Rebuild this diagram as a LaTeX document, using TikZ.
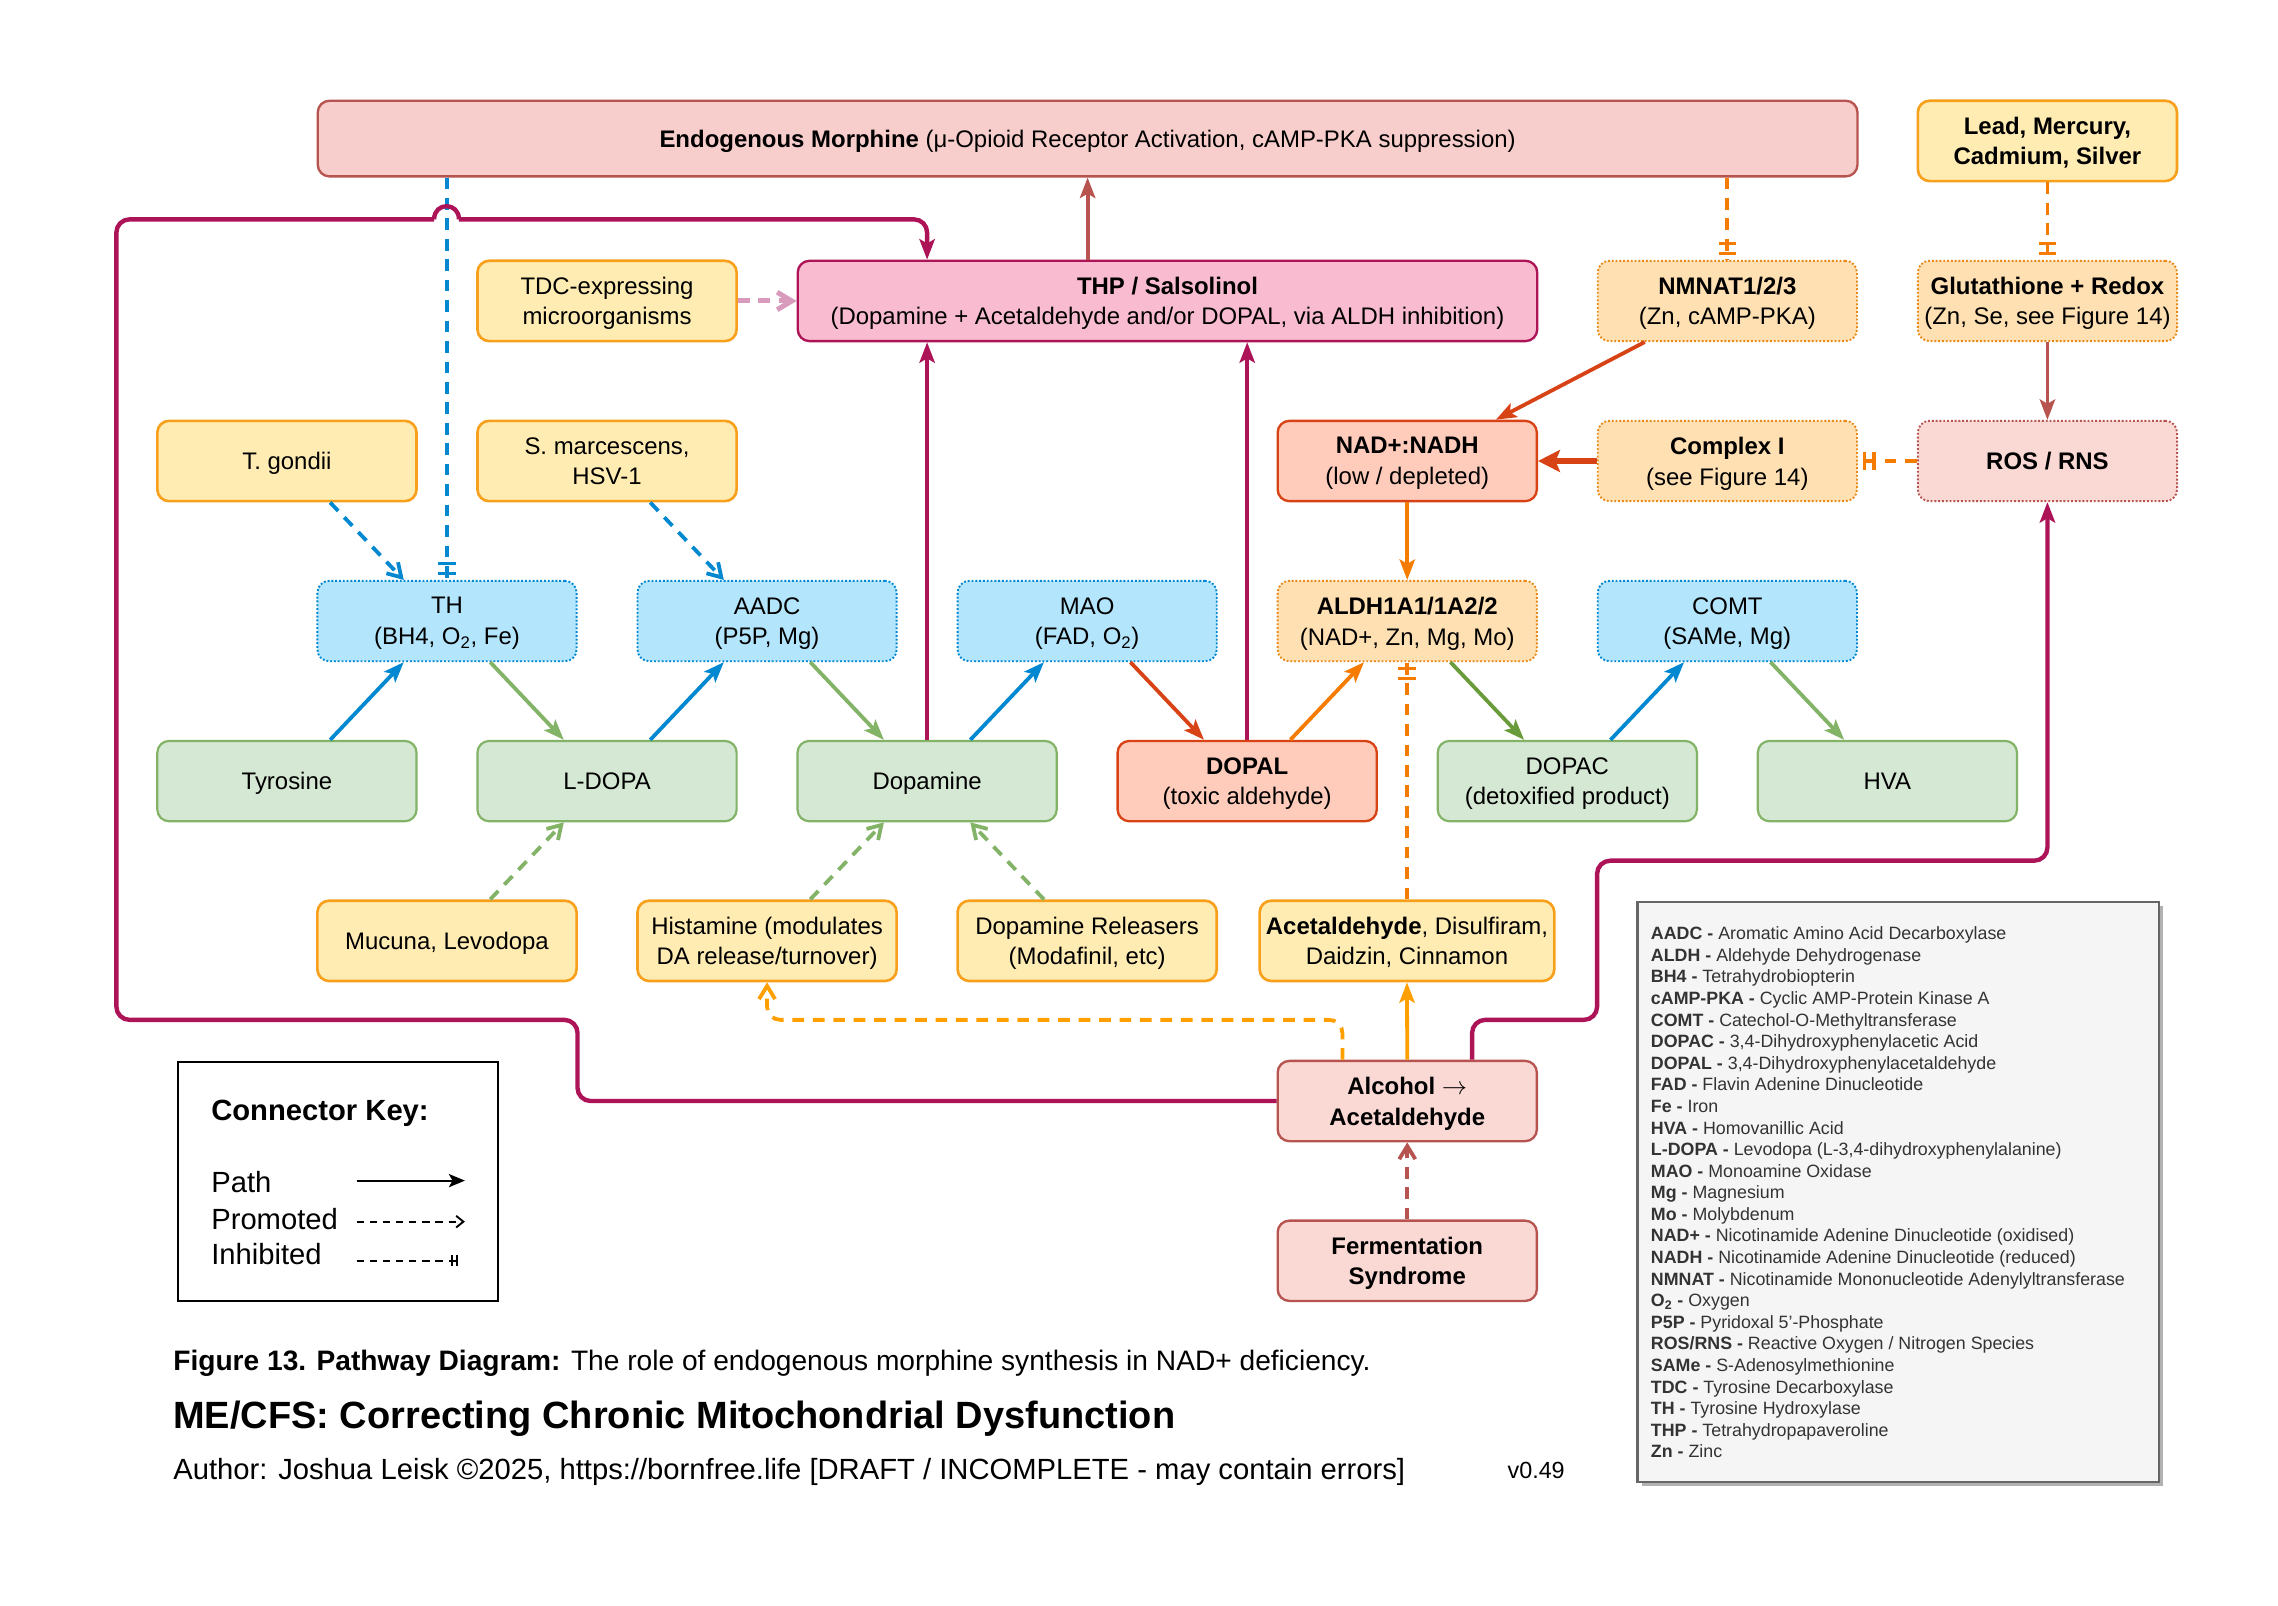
\documentclass[tikz,border=0pt]{standalone}
\usepackage{fontspec}
\setmainfont{Liberation Sans}
\usetikzlibrary{arrows.meta,decorations.markings,shadows}
\definecolor{cBlueF}{HTML}{B3E5FC}
\definecolor{cBlue}{HTML}{0288D1}
\definecolor{cGreenF}{HTML}{D5E8D4}
\definecolor{cGreen}{HTML}{82B366}
\definecolor{cGreenDk}{HTML}{6A9B3A}
\definecolor{cYelF}{HTML}{FFECB3}
\definecolor{cYel}{HTML}{F8A01C}
\definecolor{cAmber}{HTML}{FFA000}
\definecolor{cOrF}{HTML}{FFE0B2}
\definecolor{cOr}{HTML}{F57C00}
\definecolor{cOrD}{HTML}{E88A1A}
\definecolor{cDOrF}{HTML}{FFCCBC}
\definecolor{cDOr}{HTML}{D84315}
\definecolor{cRedF}{HTML}{F8CECC}
\definecolor{cRedF2}{HTML}{FAD9D5}
\definecolor{cRed}{HTML}{B85450}
\definecolor{cPinkF}{HTML}{F8BBD0}
\definecolor{cMag}{HTML}{AD1457}
\definecolor{cPinkL}{HTML}{D99BBB}
\definecolor{cLegF}{HTML}{F5F5F5}
\definecolor{cLegD}{HTML}{666666}
\definecolor{cTxt}{HTML}{333333}
\newcommand\bxfont{\fontsize{16.4}{21}\selectfont}
\newcommand\abfont{\fontsize{12.2}{14.78}\selectfont}
\newcommand\keyfont{\fontsize{20}{24}\selectfont}
\newcommand\capfont{\fontsize{19.27}{23}\selectfont}
\newcommand\ttlfont{\fontsize{26}{30}\selectfont}
\newcommand\authfont{\fontsize{20}{24}\selectfont}
\newcommand\verfont{\fontsize{16}{19}\selectfont}
\begin{document}
\begin{tikzpicture}[x=1pt,y=-1pt,
  box/.style={rectangle, rounded corners=8pt, minimum width=177.5pt, minimum height=55pt,
    inner sep=0pt, align=center, font=\bxfont, text=black, text depth=0pt},
  bfbox/.style={font=\bxfont\bfseries},
  bxGreen/.style={box, fill=cGreenF, draw=cGreen, line width=1.5pt},
  bxBlue/.style={box, fill=cBlueF, draw=cBlue, line width=1.3pt, dash pattern=on 1.3pt off 1.3pt},
  bxYel/.style={box, fill=cYelF, draw=cYel, line width=1.8pt},
  bxOr/.style={box, fill=cOrF, draw=cOrD, line width=1.3pt, dash pattern=on 1.3pt off 1.3pt},
  bxDOr/.style={box, fill=cDOrF, draw=cDOr, line width=1.6pt},
  bxRed/.style={box, fill=cRedF2, draw=cRed, line width=1.6pt},
  bxRos/.style={box, fill=cRedF2, draw=cRed, line width=1.3pt, dash pattern=on 1.3pt off 1.3pt},
  bxPink/.style={box, fill=cPinkF, draw=cMag, line width=1.6pt},
  ln/.style={line width=2.6pt},
  mline/.style={line width=3pt, cMag},
  tipF/.style={-{Stealth[length=14pt,width=10.5pt,inset=3pt]}},
  tipO/.style={-{Straight Barb[length=9pt,width=11pt]}},
  dsh/.style={dash pattern=on 8pt off 6pt},
  inh/.style={postaction={decorate,decoration={markings,
      mark=at position -4.5pt with {\draw[solid,line width=2.2pt,#1] (0,-6pt) -- (0,6pt);},
      mark=at position -11pt with {\draw[solid,line width=2.2pt,#1] (0,-6pt) -- (0,6pt);}}}},
  inhS/.style={postaction={decorate,decoration={markings,
      mark=at position -1pt with {\draw[solid,line width=1.2pt,black] (0,-4pt) -- (0,4pt);},
      mark=at position -4.5pt with {\draw[solid,line width=1.2pt,black] (0,-4pt) -- (0,4pt);}}}},
  txt/.style={inner sep=0pt, text=black}
]
\useasboundingbox (0,0) rectangle (1560,1099.8);
\fill[white] (0,0) rectangle (1560,1099.8);

% ---------- boxes ----------
\node[box, fill=cRedF, draw=cRed, line width=1.6pt, minimum width=1054.4pt, minimum height=51.8pt] (endo) at (744.8,94.9)
  {\textbf{Endogenous Morphine} (μ-Opioid Receptor Activation, cAMP-PKA suppression)};
\node[bxYel,bfbox] (lead) at (1402.1,96.5) {Lead, Mercury,\\Cadmium, Silver};

\node[bxYel] (tdc) at (415.7,206.1) {TDC-expressing\\microorganisms};
\node[bxPink, minimum width=506.4pt] (thp) at (799.5,206.1)
  {\textbf{THP / Salsolinol}\\(Dopamine + Acetaldehyde and/or DOPAL, via ALDH inhibition)};
\node[bxOr] (nmnat) at (1182.9,206.1) {\textbf{NMNAT1/2/3}\\(Zn, cAMP-PKA)};
\node[bxOr] (glut) at (1402.1,206.1) {\textbf{Glutathione + Redox}\\(Zn, Se, see Figure 14)};

\node[bxYel] (tg) at (196.5,315.7) {T. gondii};
\node[bxYel] (sm) at (415.7,315.7) {S. marcescens,\\HSV-1};
\node[bxDOr] (nad) at (963.7,315.7) {\textbf{NAD+:NADH}\\(low / depleted)};
\node[bxOr] (c1) at (1182.9,315.7) {\textbf{Complex I}\\(see Figure 14)};
\node[bxRos,bfbox] (ros) at (1402.1,315.7) {ROS / RNS};

\node[bxBlue] (th) at (306.1,425.3) {TH\\(BH4, O\textsubscript{2}, Fe)};
\node[bxBlue] (aadc) at (525.3,425.3) {AADC\\(P5P, Mg)};
\node[bxBlue] (mao) at (744.5,425.3) {MAO\\(FAD, O\textsubscript{2})};
\node[bxOr] (aldh) at (963.7,425.3) {\textbf{ALDH1A1/1A2/2}\\(NAD+, Zn, Mg, Mo)};
\node[bxBlue] (comt) at (1182.9,425.3) {COMT\\(SAMe, Mg)};

\node[bxGreen] (tyr) at (196.5,534.9) {Tyrosine};
\node[bxGreen] (ldopa) at (415.7,534.9) {L-DOPA};
\node[bxGreen] (dopa) at (634.9,534.9) {Dopamine};
\node[bxDOr] (dopal) at (854.1,534.9) {\textbf{DOPAL}\\(toxic aldehyde)};
\node[bxGreen] (dopac) at (1073.3,534.9) {DOPAC\\(detoxified product)};
\node[bxGreen] (hva) at (1292.5,534.9) {HVA};

\node[bxYel] (muc) at (306.1,644.3) {Mucuna, Levodopa};
\node[bxYel] (hist) at (525.3,644.3) {Histamine (modulates\\DA release/turnover)};
\node[bxYel] (rel) at (744.5,644.3) {Dopamine Releasers\\(Modafinil, etc)};
\node[bxYel, minimum width=201.8pt] (acet) at (963.5,644.3) {\textbf{Acetaldehyde}, Disulfiram,\\Daidzin, Cinnamon};

\node[bxRed,bfbox] (alc) at (963.7,754.0) {Alcohol $\rightarrow$\\Acetaldehyde};
\node[bxRed,bfbox] (ferm) at (963.7,863.4) {Fermentation\\Syndrome};

% ---------- main pathway ----------
\draw[cBlue,ln,tipF] ([xshift=29.6pt]tyr.north) -- ([xshift=-29.6pt]th.south);
\draw[cGreen,ln,tipF] ([xshift=29.6pt]th.south) -- ([xshift=-29.6pt]ldopa.north);
\draw[cBlue,ln,tipF] ([xshift=29.6pt]ldopa.north) -- ([xshift=-29.6pt]aadc.south);
\draw[cGreen,ln,tipF] ([xshift=29.6pt]aadc.south) -- ([xshift=-29.6pt]dopa.north);
\draw[cBlue,ln,tipF] ([xshift=29.6pt]dopa.north) -- ([xshift=-29.6pt]mao.south);
\draw[cDOr,ln,tipF] ([xshift=29.6pt]mao.south) -- ([xshift=-29.6pt]dopal.north);
\draw[cOr,ln,tipF] ([xshift=29.6pt]dopal.north) -- ([xshift=-29.6pt]aldh.south);
\draw[cGreenDk,ln,tipF] ([xshift=29.6pt]aldh.south) -- ([xshift=-29.6pt]dopac.north);
\draw[cBlue,ln,tipF] ([xshift=29.6pt]dopac.north) -- ([xshift=-29.6pt]comt.south);
\draw[cGreen,ln,tipF] ([xshift=29.6pt]comt.south) -- ([xshift=-29.6pt]hva.north);

\draw[cMag,ln,tipF] (dopa.north) -- (dopa.north |- thp.south);
\draw[cMag,ln,tipF] (dopal.north) -- (dopal.north |- thp.south);
\draw[cRed,ln,tipF] (endo.south |- thp.north) -- (endo.south);
\draw[cPinkL,line width=3.4pt,dsh,-{Straight Barb[length=10pt,width=12pt]}] (tdc.east) -- (thp.west);

% ---------- modulators ----------
\draw[cBlue,line width=2.4pt,dsh,inh=cBlue] (endo.south -| th.north) -- (th.north);
\draw[cBlue,ln,dsh,tipO] ([xshift=29.6pt]tg.south) -- ([xshift=-29.6pt]th.north);
\draw[cBlue,ln,dsh,tipO] ([xshift=29.6pt]sm.south) -- ([xshift=-29.6pt]aadc.north);
\draw[cGreen,ln,dsh,tipO] ([xshift=29.6pt]muc.north) -- ([xshift=-29.6pt]ldopa.south);
\draw[cGreen,ln,dsh,tipO] ([xshift=29.6pt]hist.north) -- ([xshift=-29.6pt]dopa.south);
\draw[cGreen,ln,dsh,tipO] ([xshift=-29.6pt]rel.north) -- ([xshift=29.6pt]dopa.south);

\draw[cOr,ln,dsh,inh=cOr] (endo.south -| nmnat.north) -- (nmnat.north);
\draw[cOr,ln,dsh,inh=cOr] (lead.south) -- (glut.north);
\draw[cRed,ln,tipF] (glut.south) -- (ros.north);
\draw[cDOr,ln,tipF] ([xshift=-56.6pt]nmnat.south) -- ([xshift=60.7pt]nad.north);
\draw[cDOr,line width=4.6pt,-{Stealth[length=15pt,width=15pt,inset=3pt]}] (c1.west) -- (nad.east);
\draw[cOr,ln,dsh,inh=cOr] (ros.west) -- (c1.east);
\draw[cOr,ln,tipF] (nad.south) -- (aldh.north);
\draw[cOr,ln,dsh,inh=cOr] (acet.north) -- (acet.north |- aldh.south);
\draw[cAmber,ln,tipF] (alc.north) -- (acet.south);
\draw[cRed,ln,dsh,tipO] (ferm.north) -- (alc.south);

\coordinate (hy) at (0,698.4);
\draw[cAmber,ln,dsh,tipO,rounded corners=9pt] ([xshift=-44.4pt]alc.north) |- (hist.south |- hy) -- (hist.south);

% ---------- long magenta routes ----------
\coordinate (mA) at (395.5,698.4);
\coordinate (mB) at (79.7,150.2);
\coordinate (hopL) at (297.3,150.2);
\coordinate (hopR) at (314.3,150.2);
\draw[mline,rounded corners=9pt] (alc.west) -| (mA) -| (mB) -- (hopL);
\draw[mline] (hopL) .. controls (297.3,138.2) and (314.3,138.2) .. (hopR);
\draw[mline,rounded corners=9pt,tipF] (hopR) -| (dopa.north |- thp.north);

\coordinate (mC) at (1093.7,698.4);
\coordinate (mD) at (1093.7,589.4);
\draw[mline,rounded corners=9pt,tipF] ([xshift=44.4pt]alc.north) |- (mC) -- (mD) -| (ros.south);

% ---------- connector key ----------
\node[draw=black, line width=1.5pt, minimum width=218.7pt, minimum height=163.7pt, anchor=north west, inner sep=0pt] (key) at (121.4,726.5) {};
\node[txt, anchor=west, font=\keyfont\bfseries] (keyT) at (144.5,762.4) {Connector Key:};
\node[txt, anchor=west, font=\keyfont] (kPath) at (144.5,809.2) {Path};
\node[txt, anchor=west, font=\keyfont] (kProm) at (144.5,834.6) {Promoted};
\node[txt, anchor=west, font=\keyfont] (kInh) at (144.5,858.6) {Inhibited};
\coordinate (pa1) at (244.2,808.5); \coordinate (pa2) at (318.4,808.5);
\coordinate (pr1) at (244.2,836.6); \coordinate (pr2) at (318.4,836.6);
\coordinate (in1) at (244.2,863.3); \coordinate (in2) at (313.8,863.3);
\draw[black,line width=1.5pt,-{Stealth[length=11pt,width=9pt,inset=2.5pt]}] (pa1) -- (pa2);
\draw[black,line width=1.3pt,dash pattern=on 5pt off 4pt,-{Straight Barb[length=5pt,width=8pt,line width=1.3pt]}] (pr1) -- (pr2);
\draw[black,line width=1.3pt,dash pattern=on 5pt off 4pt,inhS] (in1) -- (in2);

% ---------- abbreviations ----------
\node[draw=cLegD, fill=cLegF, line width=1.5pt, minimum width=356.9pt, minimum height=397.5pt,
  anchor=north west, inner sep=0pt,
  drop shadow={shadow xshift=3pt,shadow yshift=-3pt,opacity=0.3,fill=black}] (abbr) at (1120.6,616.7) {};
\foreach \a/\b [count=\i from 0] in {
  AADC/{Aromatic Amino Acid Decarboxylase},
  ALDH/{Aldehyde Dehydrogenase},
  BH4/{Tetrahydrobiopterin},
  cAMP-PKA/{Cyclic AMP-Protein Kinase A},
  COMT/{Catechol-O-Methyltransferase},
  DOPAC/{3,4-Dihydroxyphenylacetic Acid},
  DOPAL/{3,4-Dihydroxyphenylacetaldehyde},
  FAD/{Flavin Adenine Dinucleotide},
  Fe/{Iron},
  HVA/{Homovanillic Acid},
  L-DOPA/{Levodopa (L-3,4-dihydroxyphenylalanine)},
  MAO/{Monoamine Oxidase},
  Mg/{Magnesium},
  Mo/{Molybdenum},
  NAD+/{Nicotinamide Adenine Dinucleotide (oxidised)},
  NADH/{Nicotinamide Adenine Dinucleotide (reduced)},
  NMNAT/{Nicotinamide Mononucleotide Adenylyltransferase},
  {O\textsubscript{2}}/{Oxygen},
  P5P/{Pyridoxal 5’-Phosphate},
  {ROS\slash RNS}/{Reactive Oxygen \slash\ Nitrogen Species},
  SAMe/{S-Adenosylmethionine},
  TDC/{Tyrosine Decarboxylase},
  TH/{Tyrosine Hydroxylase},
  THP/{Tetrahydropapaveroline},
  Zn/{Zinc}}
  {\node[inner sep=0pt, anchor=base west, font=\abfont, text=cTxt] (ab\i) at (1130.4,{643.6+14.78*\i}) {\textbf{\a\ -} \b};}

% ---------- captions ----------
\node[txt, anchor=base west, font=\capfont] (cap) at (118.5,938.5)
  {\textbf{Figure 13. Pathway Diagram:} The role of endogenous morphine synthesis in NAD+ deficiency.};
\node[txt, anchor=base west, font=\ttlfont\bfseries] (ttl) at (118.5,978)
  {ME/CFS: Correcting Chronic Mitochondrial Dysfunction};
\node[txt, anchor=base west, font=\authfont] (auth) at (118.5,1013)
  {Author: Joshua Leisk ©2025, https://bornfree.life [DRAFT / INCOMPLETE - may contain errors]};
\node[txt, anchor=base west, font=\verfont] (ver) at (1032.2,1012.8) {v0.49};
\end{tikzpicture}
\end{document}
